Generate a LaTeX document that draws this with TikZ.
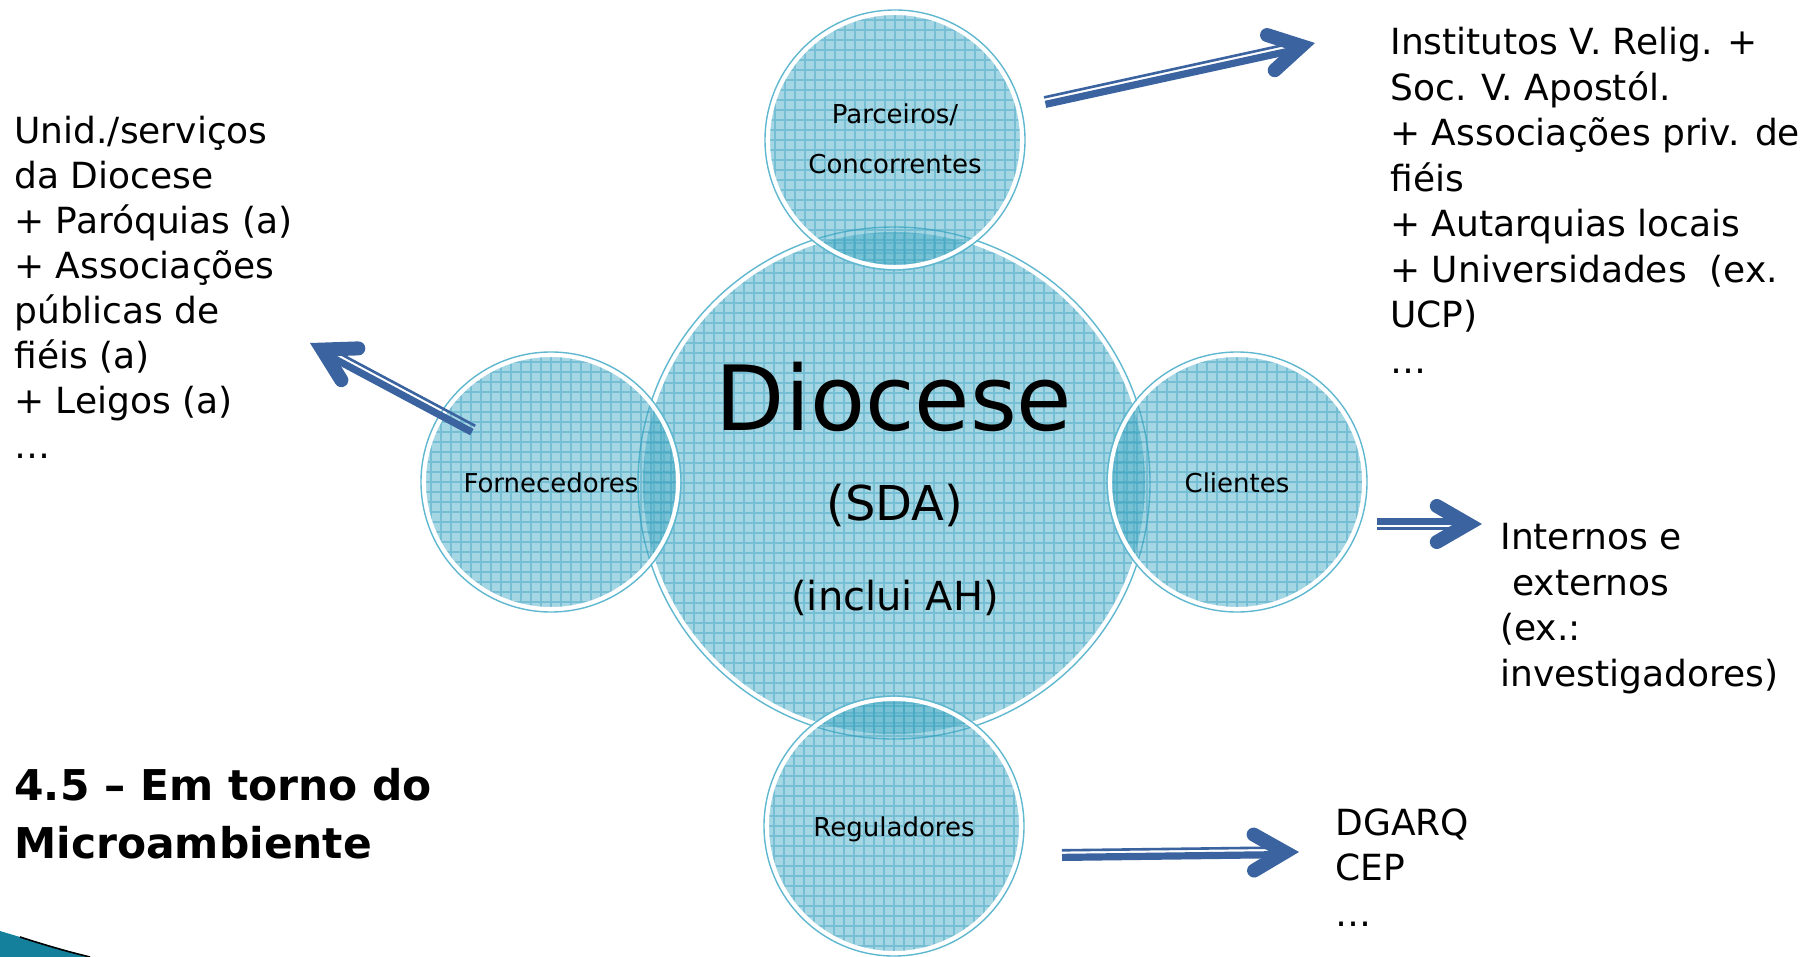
\documentclass[tikz,border=0pt]{standalone}
\usepackage{fontspec}
\setmainfont{DejaVu Sans}
\usetikzlibrary{calc}

\definecolor{bub}{HTML}{4BADC7}
\definecolor{gridc}{HTML}{2A98B9}
\definecolor{rimc}{HTML}{5FB8D0}
\definecolor{arrowc}{HTML}{3A63A0}
\definecolor{swooshc}{HTML}{14809C}

% double-shaft arrow with a rounded chevron head
% #1 tail, #2 tip, #3 side of the thick shaft, #4 side of the thin shaft
\newcommand\twinarrow[4]{%
  \coordinate (#2-v) at ($(#2)!7pt!(#1)$);
  \coordinate (#2-e) at ($(#2-v)!6pt!(#1)$);
  \draw[arrowc, line width=3.6pt]
    ($(#1)!1.2pt!#3:(#2-e)$) -- ($(#2-e)!1.2pt!#3:(#2-v)$);
  \draw[arrowc, line width=1.3pt]
    ($(#1)!2.35pt!#4:(#2-e)$) -- ($(#2-e)!2.35pt!#4:(#2-v)$);
  \draw[arrowc, line width=7pt, line cap=round, line join=miter]
    ($(#2-v)!18pt!30:(#1)$) -- (#2-v) -- ($(#2-v)!18pt!-30:(#1)$);
}

\begin{document}
\begin{tikzpicture}[x=0.5pt, y=-0.5pt,
  bubble/.style={circle, inner sep=0pt, fill=bub, fill opacity=0.5,
    draw=white, draw opacity=1, line width=2pt, text opacity=1,
    path picture={\draw[gridc, draw opacity=0.38, line width=0.55pt]
      (path picture bounding box.south west) grid[step=5pt]
      (path picture bounding box.north east);}},
  rim/.style={draw=rimc, line width=0.7pt},
  % multi-line texts are placed by the baseline of their last line
  txt/.style={inner sep=0pt, anchor=base west, align=left,
    font=\fontsize{18}{22.5}\selectfont},
  txtwide/.style={txt, font=\fontsize{18}{22.75}\selectfont},
  lbl/.style={inner sep=0pt, anchor=base, font=\fontsize{13}{15}\selectfont},
  title/.style={inner sep=0pt, anchor=base west, align=left,
    font=\fontsize{21.2}{29}\selectfont\bfseries}]

\useasboundingbox (0,0) rectangle (1809,957);

% corner swoosh
\fill[swooshc] (0,931) .. controls (30,940) and (60,949) .. (90,957) -- (0,957) -- cycle;
\draw[black, line width=0.8pt] (20,937) .. controls (45,945) and (65,951) .. (90,957);

% circles
\node[bubble, minimum size=253pt] (dio) at (894,483) {};
\draw[rim] (dio.center) circle[radius=128pt];
\node[bubble, minimum size=127pt] (par) at (895,140) {};
\draw[rim] (par.center) circle[radius=65pt];
\node[bubble, minimum size=127pt] (forn) at (551,482) {};
\draw[rim] (forn.center) circle[radius=65pt];
\node[bubble, minimum size=127pt] (cli) at (1237,482) {};
\draw[rim] (cli.center) circle[radius=65pt];
\node[bubble, minimum size=127pt] (reg) at (894,826) {};
\draw[rim] (reg.center) circle[radius=65pt];

% circle labels
\node[inner sep=0pt, anchor=base, font=\fontsize{45}{50}\selectfont] (dioT) at (894,430) {Diocese};
\node[inner sep=0pt, anchor=base, font=\fontsize{24}{28}\selectfont] (sda) at (895,520) {(SDA)};
\node[inner sep=0pt, anchor=base, font=\fontsize{20}{24}\selectfont] (ah) at (895,610) {(inclui AH)};
\node[lbl] (parA) at (895,124) {Parceiros/};
\node[lbl] (parB) at (895,174) {Concorrentes};
\node[lbl] (fornT) at (551,492) {Fornecedores};
\node[lbl] (cliT) at (1237,492) {Clientes};
\node[lbl] (regT) at (894,836) {Reguladores};

% side texts
\node[txt] (leftT) at (14,458) {Unid./serviços\\da Diocese\\+ Paróquias (a)\\+ Associações\\públicas de\\fiéis (a)\\+ Leigos (a)\\\dots};
\node[txtwide] (rightT) at (1390,373) {Institutos V. Relig. +\\Soc. V. Apostól.\\+ Associações priv. de\\fiéis\\+ Autarquias locais\\+ Universidades~ (ex.\\UCP)\\\dots};
\node[txtwide] (cliL) at (1500,686) {Internos e\\\hspace{6pt}externos\\(ex.:\\investigadores)};
\node[txtwide] (regL) at (1335,926) {DGARQ\\CEP\\\dots};
\node[title] (ttl) at (14,858) {4.5 – Em torno do\\Microambiente};

% arrows
\coordinate (a1t) at (1045,102); \coordinate (a1h) at (1315,43);
\coordinate (a2t) at (473,430);  \coordinate (a2h) at (310,343);
\coordinate (a3t) at (1377,524); \coordinate (a3h) at (1482,524);
\coordinate (a4t) at (1062,855); \coordinate (a4h) at (1299,852);
\twinarrow{a1t}{a1h}{-90}{90}
\twinarrow{a2t}{a2h}{90}{-90}
\twinarrow{a3t}{a3h}{90}{-90}
\twinarrow{a4t}{a4h}{-90}{90}
\end{tikzpicture}
\end{document}
